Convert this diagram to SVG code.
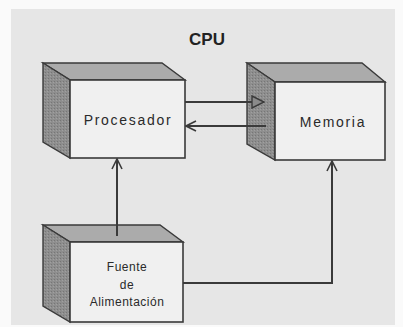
<svg xmlns="http://www.w3.org/2000/svg" width="403" height="327" viewBox="0 0 403 327">
<defs>
<pattern id="dots" width="3" height="3" patternUnits="userSpaceOnUse">
<rect width="3" height="3" fill="#8e8e8e"/>
<rect x="0" y="0" width="1" height="1" fill="#767676"/>
<rect x="2" y="1" width="1" height="1" fill="#a0a0a0"/>
</pattern>
<marker id="open" viewBox="0 0 12 12" refX="11" refY="6" markerWidth="12" markerHeight="12" markerUnits="userSpaceOnUse" orient="auto">
<path d="M1,1 L11,6 L1,11" fill="none" stroke="#3a3a3a" stroke-width="1.6"/>
</marker>
<marker id="hollow" viewBox="0 0 14 14" refX="13" refY="7" markerWidth="14" markerHeight="14" markerUnits="userSpaceOnUse" orient="auto">
<path d="M1,1 L13,7 L1,13 Z" fill="#8a8a8a" stroke="#3a3a3a" stroke-width="1.4"/>
</marker>
</defs>
<style>
.side{fill:url(#dots);stroke:#3a3a3a;stroke-width:1.4}
.top{fill:#ababab;stroke:#3a3a3a;stroke-width:1.4}
.front{fill:#f0f0f0;stroke:#3a3a3a;stroke-width:1.6}
.lbl{font-family:"Liberation Sans",Arial,sans-serif;font-size:14px;letter-spacing:1.7px;fill:#2a2a2a;text-anchor:middle}
.sm{font-size:12px;letter-spacing:0.5px}
.conn{fill:none;stroke:#3a3a3a;stroke-width:2}
</style>
<rect width="403" height="327" fill="#fafafa"/>
<rect x="11" y="9" width="384" height="316" fill="#e6e6e6"/>
<text x="207" y="45" font-family="Liberation Sans,Arial,sans-serif" font-size="17" font-weight="bold" text-anchor="middle" fill="#222">CPU</text>
<g id="procesador">
<polygon class="top" points="43,63 162,63 185,80 70,80"/>
<polygon class="side" points="43,63 70,80 70,158 43,142"/>
<rect class="front" x="70" y="80" width="115" height="78"/>
<text class="lbl" x="128" y="125">Procesador</text>
</g>
<g id="memoria">
<polygon class="top" points="247,63 362,63 385,82 275,82"/>
<polygon class="side" points="247,63 275,82 275,160 247,144"/>
<rect class="front" x="275" y="82" width="110" height="78"/>
<text class="lbl" x="333" y="127">Memoria</text>
</g>
<g id="fuente">
<polygon class="top" points="43,225 160,225 183,242 70,242"/>
<polygon class="side" points="43,225 70,242 70,322 43,306"/>
<rect class="front" x="70" y="242" width="113" height="80"/>
<text class="lbl sm" x="127" y="271">Fuente</text>
<text class="lbl sm" x="127" y="289">de</text>
<text class="lbl sm" x="127" y="306">Alimentación</text>
</g>
<g id="connectors">
<line class="conn" x1="185" y1="102" x2="264" y2="102" stroke-width="3" marker-end="url(#hollow)"/>
<line class="conn" x1="266" y1="126" x2="186" y2="126" marker-end="url(#open)"/>
<line class="conn" x1="117" y1="236" x2="117" y2="159" marker-end="url(#open)"/>
<polyline class="conn" points="183,283 332,283 332,161" marker-end="url(#open)"/>
</g>
</svg>
